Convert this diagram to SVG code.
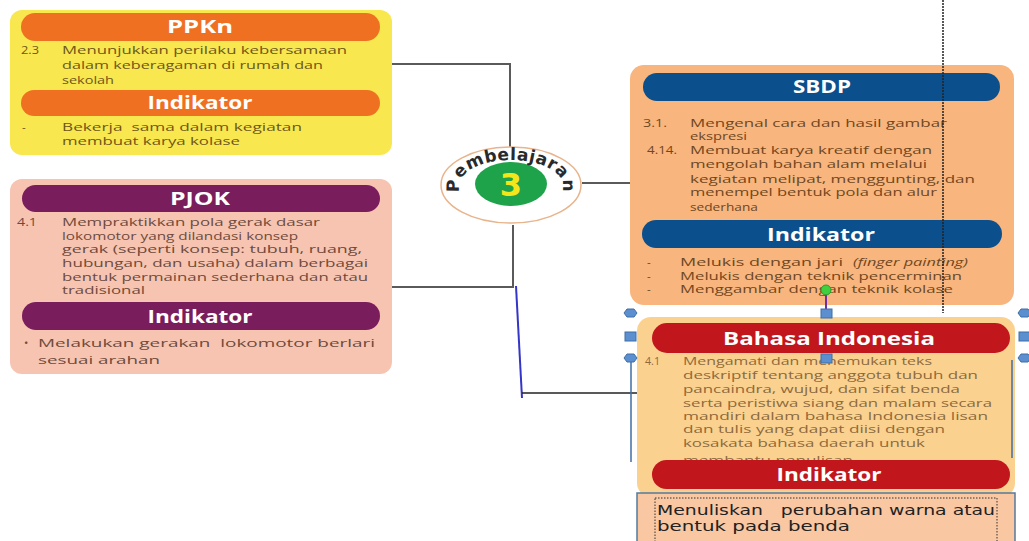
<svg xmlns="http://www.w3.org/2000/svg" width="1029" height="541" viewBox="0 0 1029 541">
<style>
.b{font-family:"Open Sans","Liberation Sans",sans-serif;font-size:11.5px;}
.pp{fill:#6e5619;}
.pj{fill:#6e4a3c;}
.sb{fill:#6f4721;}
.bi{fill:#8c6a3c;font-size:11px;}
.h{font-family:"Open Sans","Liberation Sans",sans-serif;font-size:17px;font-weight:700;fill:#fff;text-anchor:middle;}
.con{stroke:#5a5a5a;stroke-width:2;fill:none;}
.hs{fill:#5b8fd0;stroke:#3f6ea6;stroke-width:1;}
</style>
<rect width="1029" height="541" fill="#fff"/>

<g id="connectors">
<polyline class="con" points="392,64 510,64 510,147"/>
<line class="con" x1="582" y1="183" x2="630" y2="183"/>
<polyline class="con" points="392,287 513,287 513,225"/>
<line x1="516" y1="286" x2="522" y2="398" stroke="#3535c8" stroke-width="2"/>
<line x1="522" y1="393" x2="637" y2="393" stroke="#222" stroke-width="1.5"/>
</g>

<g id="ppkn">
<rect x="10" y="10" width="382" height="145" rx="12" fill="#f8e74f"/>
<rect x="21" y="13" width="359" height="28" rx="14" fill="#f07022"/>
<text class="h" x="200" y="33" textLength="66" lengthAdjust="spacingAndGlyphs">PPKn</text>
<text class="b pp" x="21" y="54" textLength="18" lengthAdjust="spacingAndGlyphs">2.3</text>
<text class="b pp" x="62" y="54" textLength="285" lengthAdjust="spacingAndGlyphs">Menunjukkan perilaku kebersamaan</text>
<text class="b pp" x="62" y="69" textLength="261" lengthAdjust="spacingAndGlyphs">dalam keberagaman di rumah dan</text>
<text class="b pp" x="62" y="84" textLength="52" lengthAdjust="spacingAndGlyphs">sekolah</text>
<rect x="21" y="90" width="359" height="26" rx="13" fill="#f07022"/>
<text class="h" x="200" y="109" textLength="105" lengthAdjust="spacingAndGlyphs">Indikator</text>
<text class="b pp" x="22" y="131">-</text>
<text class="b pp" x="62" y="131" textLength="240" lengthAdjust="spacingAndGlyphs" xml:space="preserve">Bekerja  sama dalam kegiatan</text>
<text class="b pp" x="62" y="145" textLength="178" lengthAdjust="spacingAndGlyphs">membuat karya kolase</text>
</g>

<g id="pjok">
<rect x="10" y="179" width="382" height="195" rx="12" fill="#f6c4b1"/>
<rect x="22" y="185" width="358" height="27" rx="13.5" fill="#7a1d5c"/>
<text class="h" x="200" y="205" textLength="60" lengthAdjust="spacingAndGlyphs">PJOK</text>
<text class="b pj" x="17" y="226" textLength="20" lengthAdjust="spacingAndGlyphs">4.1</text>
<text class="b pj" x="62" y="226" textLength="258" lengthAdjust="spacingAndGlyphs">Mempraktikkan pola gerak dasar</text>
<text class="b pj" x="62" y="240" textLength="236" lengthAdjust="spacingAndGlyphs">lokomotor yang dilandasi konsep</text>
<text class="b pj" x="62" y="253" textLength="300" lengthAdjust="spacingAndGlyphs">gerak (seperti konsep: tubuh, ruang,</text>
<text class="b pj" x="62" y="267" textLength="306" lengthAdjust="spacingAndGlyphs">hubungan, dan usaha) dalam berbagai</text>
<text class="b pj" x="62" y="281" textLength="306" lengthAdjust="spacingAndGlyphs">bentuk permainan sederhana dan atau</text>
<text class="b pj" x="62" y="294" textLength="83" lengthAdjust="spacingAndGlyphs">tradisional</text>
<rect x="22" y="302" width="358" height="28" rx="14" fill="#7a1d5c"/>
<text class="h" x="200" y="323" textLength="105" lengthAdjust="spacingAndGlyphs">Indikator</text>
<text class="b pj" x="24" y="347">•</text>
<text class="b pj" x="38" y="347" textLength="337" lengthAdjust="spacingAndGlyphs" xml:space="preserve">Melakukan gerakan  lokomotor berlari</text>
<text class="b pj" x="38" y="364" textLength="122" lengthAdjust="spacingAndGlyphs">sesuai arahan</text>
</g>

<g id="pembelajaran">
<ellipse cx="511" cy="185" rx="70" ry="38" fill="#fff" stroke="#e8b48c" stroke-width="1.5"/>
<ellipse cx="511" cy="184" rx="36" ry="22" fill="#1ea34a"/>
<text x="511" y="196" font-family="'DejaVu Sans','Liberation Sans',sans-serif" font-size="32" font-weight="700" fill="#f5e61c" text-anchor="middle">3</text>
<path id="arc" d="M 468.4,200.9 A 52,26 0 1,1 553.6,200.9" fill="none"/>
<text font-family="'DejaVu Sans','Liberation Sans',sans-serif" font-size="17" font-weight="700" fill="#2a2a2a" text-anchor="middle" letter-spacing="0.5"><textPath href="#arc" startOffset="50%">Pembelajaran</textPath></text>
</g>

<g id="sbdp">
<rect x="630" y="65" width="384" height="240" rx="14" fill="#f8b57e"/>
<rect x="643" y="73" width="357" height="28" rx="14" fill="#0b4f8c"/>
<text class="h" x="822" y="93" textLength="58" lengthAdjust="spacingAndGlyphs">SBDP</text>
<text class="b sb" x="643" y="127" textLength="24" lengthAdjust="spacingAndGlyphs">3.1.</text>
<text class="b sb" x="690" y="127" textLength="257" lengthAdjust="spacingAndGlyphs">Mengenal cara dan hasil gambar</text>
<text class="b sb" x="690" y="140" textLength="57" lengthAdjust="spacingAndGlyphs">ekspresi</text>
<text class="b sb" x="647" y="154" textLength="30" lengthAdjust="spacingAndGlyphs">4.14.</text>
<text class="b sb" x="690" y="154" textLength="242" lengthAdjust="spacingAndGlyphs">Membuat karya kreatif dengan</text>
<text class="b sb" x="690" y="168" textLength="237" lengthAdjust="spacingAndGlyphs">mengolah bahan alam melalui</text>
<text class="b sb" x="690" y="183" textLength="285" lengthAdjust="spacingAndGlyphs">kegiatan melipat, menggunting, dan</text>
<text class="b sb" x="690" y="196" textLength="247" lengthAdjust="spacingAndGlyphs">menempel bentuk pola dan alur</text>
<text class="b sb" x="690" y="211" textLength="68" lengthAdjust="spacingAndGlyphs">sederhana</text>
<rect x="642" y="220" width="360" height="28" rx="14" fill="#0b4f8c"/>
<text class="h" x="821" y="241" textLength="108" lengthAdjust="spacingAndGlyphs">Indikator</text>
<text class="b sb" x="647" y="266">-</text>
<text class="b sb" x="647" y="280">-</text>
<text class="b sb" x="647" y="293">-</text>
<text class="b sb" x="680" y="266" textLength="163" lengthAdjust="spacingAndGlyphs">Melukis dengan jari</text>
<text class="b sb" x="853" y="266" textLength="115" lengthAdjust="spacingAndGlyphs" font-style="italic">(finger painting)</text>
<text class="b sb" x="680" y="280" textLength="282" lengthAdjust="spacingAndGlyphs">Melukis dengan teknik pencerminan</text>
<text class="b sb" x="680" y="293" textLength="273" lengthAdjust="spacingAndGlyphs">Menggambar dengan teknik kolase</text>
</g>

<g id="bahasa">
<rect x="637" y="317" width="378" height="180" rx="14" fill="#fbd190"/>
<rect x="652" y="323" width="358" height="30" rx="15" fill="#c2161d"/>
<text class="h" x="829" y="345" textLength="212" lengthAdjust="spacingAndGlyphs">Bahasa Indonesia</text>
<text class="b bi" x="645" y="365" textLength="15" lengthAdjust="spacingAndGlyphs">4.1</text>
<text class="b bi" x="683" y="365" textLength="249" lengthAdjust="spacingAndGlyphs">Mengamati dan menemukan teks</text>
<text class="b bi" x="683" y="379" textLength="295" lengthAdjust="spacingAndGlyphs">deskriptif tentang anggota tubuh dan</text>
<text class="b bi" x="683" y="393" textLength="277" lengthAdjust="spacingAndGlyphs">pancaindra, wujud, dan sifat benda</text>
<text class="b bi" x="683" y="407" textLength="309" lengthAdjust="spacingAndGlyphs">serta peristiwa siang dan malam secara</text>
<text class="b bi" x="683" y="420" textLength="305" lengthAdjust="spacingAndGlyphs">mandiri dalam bahasa Indonesia lisan</text>
<text class="b bi" x="683" y="433" textLength="262" lengthAdjust="spacingAndGlyphs">dan tulis yang dapat diisi dengan</text>
<text class="b bi" x="683" y="447" textLength="242" lengthAdjust="spacingAndGlyphs">kosakata bahasa daerah untuk</text>
<text class="b bi" x="683" y="464" textLength="170" lengthAdjust="spacingAndGlyphs">membantu penulisan</text>
<rect x="652" y="460" width="358" height="29" rx="14.5" fill="#c2161d"/>
<text class="h" x="829" y="481" textLength="105" lengthAdjust="spacingAndGlyphs">Indikator</text>
<rect x="637" y="493" width="378" height="60" fill="#f9c7a2" stroke="#557a9c" stroke-width="1.5"/>
<rect x="655" y="498" width="342" height="46" fill="none" stroke="#333" stroke-width="1" stroke-dasharray="1.5,1.5"/>
<text x="657" y="515" font-family="'DejaVu Sans','Liberation Sans',sans-serif" font-size="14" fill="#222" textLength="338" lengthAdjust="spacingAndGlyphs" xml:space="preserve">Menuliskan   perubahan warna atau</text>
<text x="657" y="531" font-family="'DejaVu Sans','Liberation Sans',sans-serif" font-size="14" fill="#222" textLength="193" lengthAdjust="spacingAndGlyphs">bentuk pada benda</text>
</g>

<g id="selection">
<line x1="943" y1="0" x2="943" y2="313" stroke="#222" stroke-width="1.5" stroke-dasharray="2,1"/>
<line x1="631" y1="358" x2="631" y2="462" stroke="#3f6ea6" stroke-width="1.5"/>
<line x1="1012" y1="360" x2="1012" y2="458" stroke="#3f6ea6" stroke-width="1.5"/>
<line x1="826" y1="290" x2="826" y2="313" stroke="#7030a0" stroke-width="2"/>
<circle cx="826" cy="290" r="5" fill="#3fcf3f" stroke="#2a9a2a" stroke-width="1"/>
<rect class="hs" x="821" y="309" width="11" height="9"/>
<rect class="hs" x="625" y="332" width="11" height="9"/>
<rect class="hs" x="1019" y="332" width="11" height="9"/>
<rect class="hs" x="821" y="354" width="11" height="9"/>
<polygon class="hs" points="624,313 627,309 634,309 637,313 634,317 627,317"/>
<polygon class="hs" points="624,358 627,354 634,354 637,358 634,362 627,362"/>
<polygon class="hs" points="1018,313 1021,309 1028,309 1031,313 1028,317 1021,317"/>
<polygon class="hs" points="1018,358 1021,354 1028,354 1031,358 1028,362 1021,362"/>
</g>
</svg>
